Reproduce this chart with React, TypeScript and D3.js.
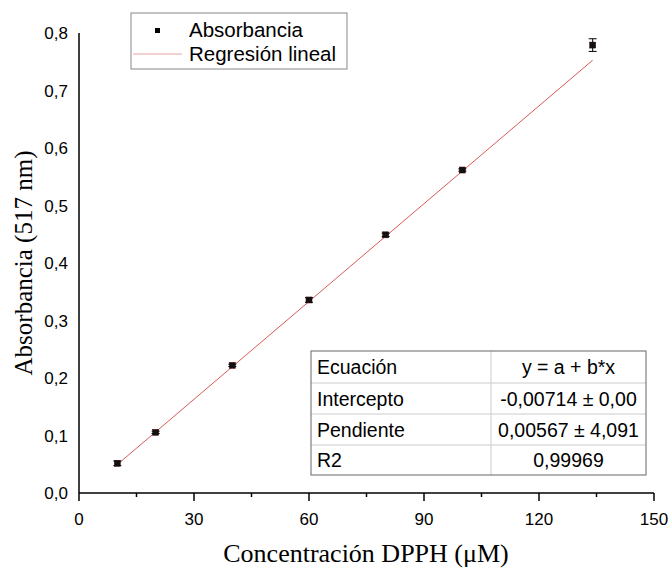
import React from 'react';
import * as d3 from 'd3';

// DPPH calibration data
const concentration = [10, 20, 40, 60, 80, 100, 134];
const absorbance = [0.0516, 0.1055, 0.222, 0.3357, 0.449, 0.5617, 0.779];
const absError = [0.004, 0.002, 0.002, 0.004, 0.003, 0.002, 0.011];

// linear fit y = a + b*x
const intercept = -0.00714;
const slope = 0.00567;

const xTicks = [0, 30, 60, 90, 120, 150];
const xMinorTicks = [15, 45, 75, 105, 135];
const yTicks = [0, 0.1, 0.2, 0.3, 0.4, 0.5, 0.6, 0.7, 0.8];

const tableLabels = ['Ecuación', 'Intercepto', 'Pendiente', 'R2'];
const tableValues = ['y = a + b*x', '-0,00714 ± 0,00', '0,00567 ± 4,091', '0,99969'];

const legendLabels = ['Absorbancia', 'Regresión lineal'];

const W = 670;
const H = 570;
const SANS = '"Liberation Sans", Arial, sans-serif';
const SERIF = '"Liberation Serif", "Times New Roman", serif';
const LINE_COLOR = '#d65a5a';

const fmt = (v: number) => v.toFixed(1).replace('.', ',');

export default function App() {
  const x = d3.scaleLinear().domain([0, 150]).range([79, 654]);
  const y = d3.scaleLinear().domain([0, 0.8]).range([493, 33]);

  const fitX = [concentration[0], concentration[concentration.length - 1]];
  const fitLine = d3.line<number>()
    .x(d => x(d))
    .y(d => y(intercept + slope * d))(fitX);

  // table geometry
  const tx0 = 311, tx1 = 491, tx2 = 646;
  const rowTops = [351, 383, 414, 445, 475];

  return (
    <svg width={W} height={H} style={{ position: 'absolute', left: 0, top: 0, background: '#fff' }}>
      <rect x={0} y={0} width={W} height={H} fill="#fff" />

      {/* regression line */}
      <path d={fitLine || ''} fill="none" stroke={LINE_COLOR} strokeWidth={1} />

      {/* error bars + markers */}
      {concentration.map((c, i) => {
        const cx = x(c);
        const top = y(absorbance[i] + absError[i]);
        const bot = y(absorbance[i] - absError[i]);
        return (
          <g key={i}>
            <line x1={cx} x2={cx} y1={top} y2={bot} stroke="#000" strokeWidth={1} />
            <line x1={cx - 4} x2={cx + 4} y1={top} y2={top} stroke="#000" strokeWidth={1} />
            <line x1={cx - 4} x2={cx + 4} y1={bot} y2={bot} stroke="#000" strokeWidth={1} />
            <rect x={cx - 3} y={y(absorbance[i]) - 3} width={6} height={6} fill="#111" stroke="#300" strokeWidth={0.5} />
          </g>
        );
      })}

      {/* axes */}
      <line x1={x(0)} x2={x(0)} y1={y(0.8)} y2={y(0)} stroke="#000" strokeWidth={1.5} />
      <line x1={x(0)} x2={x(150)} y1={y(0)} y2={y(0)} stroke="#000" strokeWidth={1.5} />
      {xTicks.map(t => (
        <g key={'xt' + t}>
          <line x1={x(t)} x2={x(t)} y1={y(0)} y2={y(0) + 8} stroke="#000" strokeWidth={1.5} />
          <text x={x(t)} y={525} textAnchor="middle" fontFamily={SANS} fontSize={17}>{t}</text>
        </g>
      ))}
      {xMinorTicks.map(t => (
        <line key={'xm' + t} x1={x(t)} x2={x(t)} y1={y(0)} y2={y(0) + 4} stroke="#000" strokeWidth={1.5} />
      ))}
      {yTicks.map(t => (
        <text key={'yt' + t} x={68} y={y(t) + 6} textAnchor="end" fontFamily={SANS} fontSize={17}>{fmt(t)}</text>
      ))}

      {/* axis titles */}
      <text x={366} y={562} textAnchor="middle" fontFamily={SERIF} fontSize={26}>Concentración DPPH (μM)</text>
      <text transform={`translate(32,263) rotate(-90)`} textAnchor="middle" fontFamily={SERIF} fontSize={25}>Absorbancia (517 nm)</text>

      {/* legend */}
      <rect x={131} y={13} width={216} height={56} fill="#fff" stroke="#888" strokeWidth={1} />
      <rect x={155} y={28} width={5} height={5} fill="#000" />
      <line x1={133} x2={182} y1={54} y2={54} stroke={LINE_COLOR} strokeWidth={1} opacity={0.55} />
      <text x={189} y={37} fontFamily={SANS} fontSize={20.5}>{legendLabels[0]}</text>
      <text x={189} y={61} fontFamily={SANS} fontSize={20.5}>{legendLabels[1]}</text>

      {/* fit table */}
      <rect x={tx0} y={rowTops[0]} width={tx2 - tx0} height={rowTops[4] - rowTops[0]} fill="#fff" stroke="none" />
      {rowTops.slice(1, 4).map(r => (
        <line key={'row' + r} x1={tx0} x2={tx2} y1={r} y2={r} stroke="#ccc" strokeWidth={1} />
      ))}
      <line x1={tx1} x2={tx1} y1={rowTops[0]} y2={rowTops[4]} stroke="#ccc" strokeWidth={1} />
      <rect x={tx0} y={rowTops[0]} width={tx2 - tx0} height={rowTops[4] - rowTops[0]} fill="none" stroke="#666" strokeWidth={1} />
      {tableLabels.map((lab, i) => {
        const cy = (rowTops[i] + rowTops[i + 1]) / 2;
        return (
          <g key={'tr' + i}>
            <text x={tx0 + 6} y={cy + 7} fontFamily={SANS} fontSize={19.5}>{lab}</text>
            <text x={(tx1 + tx2) / 2} y={cy + 7} textAnchor="middle" fontFamily={SANS} fontSize={19.5}>{tableValues[i]}</text>
          </g>
        );
      })}
    </svg>
  );
}
